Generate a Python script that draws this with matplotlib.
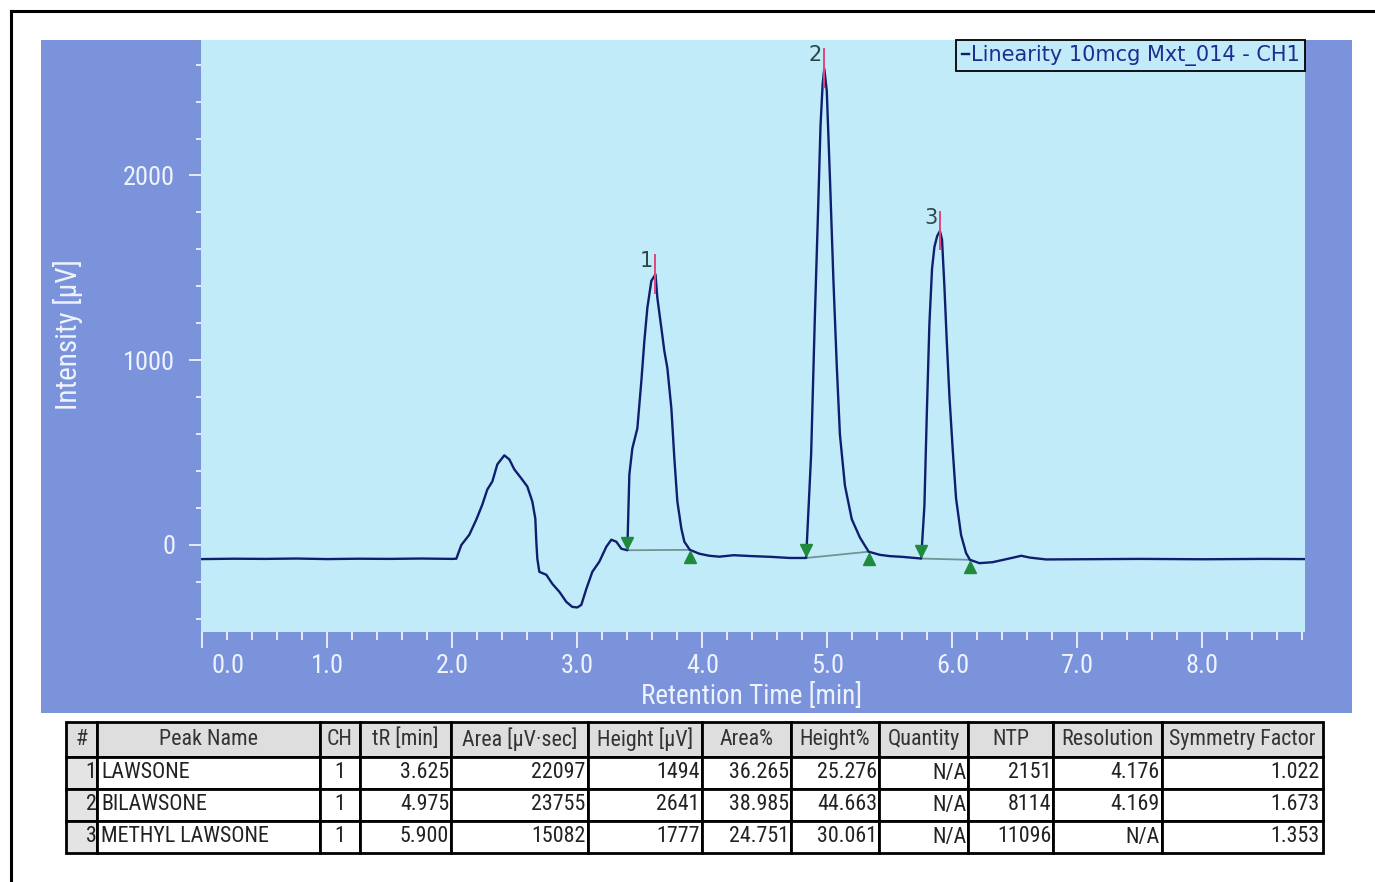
import matplotlib
matplotlib.use("Agg")
import numpy as np
import matplotlib.pyplot as plt
from matplotlib import font_manager
from matplotlib.lines import Line2D
from matplotlib.patches import Rectangle
from matplotlib.ticker import MultipleLocator, FixedLocator, FuncFormatter
from matplotlib.transforms import ScaledTranslation

# detector trace, CH1 (retention time in min, signal in uV)
time_min = [0.00, 0.25, 0.50, 0.75, 1.00, 1.25, 1.50, 1.75, 2.00, 2.032,
            2.072, 2.136, 2.192, 2.240, 2.280, 2.320, 2.360, 2.416, 2.456, 2.496,
            2.552, 2.600, 2.640, 2.664, 2.672, 2.680, 2.696, 2.752, 2.800, 2.856,
            2.912, 2.960, 3.000, 3.032, 3.072, 3.120, 3.176, 3.232, 3.272, 3.312,
            3.352, 3.400, 3.416, 3.440, 3.480, 3.512, 3.536, 3.560, 3.592, 3.640,
            3.672, 3.696, 3.720, 3.752, 3.776, 3.800, 3.832, 3.856, 3.900, 3.976,
            4.056, 4.136, 4.250, 4.400, 4.550, 4.700, 4.830, 4.870, 4.900, 4.925,
            4.945, 4.962, 4.995, 5.020, 5.048, 5.075, 5.100, 5.140, 5.195, 5.260,
            5.330, 5.420, 5.500, 5.600, 5.700, 5.750, 5.776, 5.795, 5.816, 5.837,
            5.856, 5.878, 5.917, 5.936, 5.955, 5.976, 6.003, 6.029, 6.069, 6.109,
            6.140, 6.216, 6.320, 6.420, 6.500, 6.550, 6.620, 6.750, 7.000, 7.500,
            8.000, 8.500, 8.820]
signal_uv = [-78, -76, -77, -75, -78, -76, -77, -75, -77, -76,
             -2, 54, 136, 217, 299, 342, 435, 484, 462, 408,
             359, 315, 234, 141, 16, -76, -147, -163, -212, -255,
             -310, -337, -340, -326, -239, -147, -92, -11, 27, 16,
             -22, -30, 380, 522, 630, 886, 1103, 1283, 1429, 1337,
             1174, 1049, 957, 739, 467, 234, 87, 16, -28, -49,
             -60, -65, -57, -62, -66, -72, -72, 490, 1239, 1801,
             2269, 2494, 2459, 1993, 1435, 969, 598, 321, 138, 39,
             -38, -55, -62, -66, -72, -75, 211, 705, 1199, 1495,
             1613, 1672, 1652, 1397, 1100, 804, 508, 251, 53, -45,
             -82, -100, -95, -80, -68, -60, -70, -80, -79, -77,
             -79, -77, -78]

# peak table
peak_no = [1, 2, 3]
peak_names = ["LAWSONE", "BILAWSONE", "METHYL LAWSONE"]
peak_ch = [1, 1, 1]
peak_tr = [3.625, 4.975, 5.900]
peak_area = [22097, 23755, 15082]
peak_height = [1494, 2641, 1777]
area_pct = [36.265, 38.985, 24.751]
height_pct = [25.276, 44.663, 30.061]
quantity = ["N/A", "N/A", "N/A"]
ntp = [2151, 8114, 11096]
resolution = ["4.176", "4.169", "N/A"]
symmetry = [1.022, 1.673, 1.353]

# integration baselines (start / end of each peak)
base_t0 = [3.40, 4.83, 5.75]
base_v0 = [-30, -72, -75]
base_t1 = [3.90, 5.33, 6.14]
base_v1 = [-28, -38, -82]

col_labels = ["#", "Peak Name", "CH", "tR [min]", "Area [µV·sec]", "Height [µV]",
              "Area%", "Height%", "Quantity", "NTP", "Resolution", "Symmetry Factor"]

FRAME = "#7a93da"
AXBG = "#c2ebfa"
TRACE = "#0f1f6e"
BASE = "#6e9494"
GREEN = "#1f8a3c"
RED = "#e0457b"
LIGHT = "#eef3ff"
NUMC = "#2a4848"
LEGTXT = "#1e2c90"

# pick a narrow sans for the axis and table text
fonts = font_manager.fontManager.ttflist


def has_font(name, stretches=None):
    return any(f.name == name and (stretches is None or f.stretch in stretches) for f in fonts)


COND = ("condensed", "semi-condensed", "extra-condensed")
if has_font("Liberation Sans Narrow"):
    NARROW, STRETCH, NARROW_OK = "Liberation Sans Narrow", "normal", True
elif has_font("Roboto Condensed"):
    NARROW, STRETCH, NARROW_OK = "Roboto Condensed", "normal", True
elif has_font("DejaVu Sans", COND):
    NARROW, STRETCH, NARROW_OK = "DejaVu Sans", "condensed", True
elif has_font("Noto Sans", COND):
    NARROW, STRETCH, NARROW_OK = "Noto Sans", "condensed", True
elif has_font("Open Sans", COND):
    NARROW, STRETCH, NARROW_OK = "Open Sans", "condensed", True
else:
    NARROW, STRETCH, NARROW_OK = "Liberation Sans", "normal", False
plt.rcParams["font.family"] = [NARROW, "DejaVu Sans"]
plt.rcParams["font.stretch"] = STRETCH

AX_FS = 19 if NARROW_OK else 17
LBL_FS = 19.5 if NARROW_OK else 17.5
TB_FS = 15.8 if NARROW_OK else 13.5

W, H = 1375, 882
fig = plt.figure(figsize=(W / 100, H / 100), dpi=100)
fig.patch.set_facecolor("white")

# blue panel behind the plot
fig.add_artist(Rectangle((41 / W, 1 - 713 / H), (1352 - 41) / W, (713 - 40) / H,
                         transform=fig.transFigure, facecolor=FRAME,
                         edgecolor="none", zorder=0))
# window border (top and left)
fig.add_artist(Line2D([11 / W, 11 / W], [0, 1 - 11 / H], transform=fig.transFigure,
                      color="black", lw=2.2))
fig.add_artist(Line2D([11 / W, 1], [1 - 11 / H, 1 - 11 / H], transform=fig.transFigure,
                      color="black", lw=2.2))

ax = fig.add_axes([201 / W, 1 - 632 / H, (1305 - 201) / W, (632 - 40) / H])
ax.set_facecolor(AXBG)
for s in ax.spines.values():
    s.set_visible(False)

# put the apex of each peak at baseline + reported height
t = list(time_min)
v = list(signal_uv)
apex = []
for i in range(len(peak_tr)):
    b = np.interp(peak_tr[i], [base_t0[i], base_t1[i]], [base_v0[i], base_v1[i]])
    apex.append(b + peak_height[i])
    k = int(np.searchsorted(t, peak_tr[i]))
    t.insert(k, peak_tr[i])
    v.insert(k, b + peak_height[i])

ax.plot(t, v, color=TRACE, lw=1.7, zorder=3, label="Linearity 10mcg Mxt_014 - CH1")

up = ax.transData + ScaledTranslation(0, 5.5 / 72, fig.dpi_scale_trans)
down = ax.transData + ScaledTranslation(0, -5.5 / 72, fig.dpi_scale_trans)
for i in range(len(peak_tr)):
    ax.plot([base_t0[i], base_t1[i]], [base_v0[i], base_v1[i]], color=BASE, lw=1.3, zorder=2)
    ax.plot(base_t0[i], base_v0[i], marker="v", ms=9, color=GREEN, transform=up, zorder=4)
    ax.plot(base_t1[i], base_v1[i], marker="^", ms=9, color=GREEN, transform=down, zorder=4)
    ax.plot([peak_tr[i], peak_tr[i]], [apex[i] - 100, apex[i] + 105], color=RED, lw=1.4, zorder=4)
    ax.annotate(str(peak_no[i]), (peak_tr[i], apex[i]), xytext=(-1.5, 9.5),
                textcoords="offset points", ha="right", va="center",
                fontsize=15, color=NUMC, family="DejaVu Sans", zorder=5)

ax.set_xlim(-0.01, 8.82)
ax.set_ylim(-473, 2734)
ax.xaxis.set_major_locator(MultipleLocator(1.0))
ax.xaxis.set_minor_locator(MultipleLocator(0.2))
ax.xaxis.set_major_formatter(FuncFormatter(lambda x, p: "" if abs(x) < 1e-9 else f"{x:.1f}"))
ax.yaxis.set_major_locator(FixedLocator([0, 1000, 2000]))
ax.yaxis.set_minor_locator(MultipleLocator(200))

ax.tick_params(axis="both", which="both", colors=LIGHT, direction="out")
ax.tick_params(axis="x", which="major", length=11.5, width=1.3, pad=4, labelsize=AX_FS)
ax.tick_params(axis="x", which="minor", length=5.8, width=1.3)
ax.tick_params(axis="y", which="major", length=8.6, width=1.3, pad=10, labelsize=AX_FS)
ax.tick_params(axis="y", which="minor", length=3.6, width=1.3)

# first label sits to the right of its tick
ax.annotate("0.0", xy=(0, 0), xycoords=("data", "axes fraction"), xytext=(18.7, -15.5),
            textcoords="offset points", ha="center", va="top", fontsize=AX_FS, color=LIGHT)

fig.text(752 / W, 1 - 696 / H, "Retention Time [min]", ha="center", va="center",
         fontsize=LBL_FS, color=LIGHT)
fig.text(68 / W, 1 - 335 / H, "Intensity [µV]", rotation=90, ha="center", va="center",
         fontsize=LBL_FS + 1.5, color=LIGHT)

leg = ax.legend(loc="upper right", borderaxespad=0, handlelength=0.35, handletextpad=0.1,
                borderpad=0.25, fancybox=False, framealpha=1, edgecolor="black",
                facecolor=AXBG, prop={"family": "DejaVu Sans", "size": 15, "stretch": "normal"})
leg.get_frame().set_linewidth(1.3)
for txt in leg.get_texts():
    txt.set_color(LEGTXT)

# peak table
tax = fig.add_axes([66 / W, 1 - 853 / H, (1323 - 66) / W, (853 - 722) / H])
tax.axis("off")
rows = []
for i in range(len(peak_no)):
    rows.append([str(peak_no[i]), peak_names[i], str(peak_ch[i]), f"{peak_tr[i]:.3f}",
                 str(peak_area[i]), str(peak_height[i]), f"{area_pct[i]:.3f}",
                 f"{height_pct[i]:.3f}", quantity[i], str(ntp[i]), resolution[i],
                 f"{symmetry[i]:.3f}"])
col_px = [31, 223, 40, 91, 137, 114, 89, 88, 89, 85, 109, 161]
tbl = tax.table(cellText=rows, colLabels=col_labels, colWidths=[w / sum(col_px) for w in col_px],
                cellLoc="right", colLoc="center", bbox=[0, 0, 1, 1])
tbl.auto_set_font_size(False)
tbl.set_fontsize(TB_FS)
for (r, c), cell in tbl.get_celld().items():
    cell.set_edgecolor("black")
    cell.set_linewidth(2.0)
    cell.PAD = 0.02
    cell.set_height(35 if r == 0 else 32)
    txt = cell.get_text()
    txt.set_color("#222222")
    if r == 0:
        cell.set_facecolor("#dedede")
        txt.set_color("#333333")
    elif c == 0:
        cell.set_facecolor("#e4e4e4")
    else:
        cell.set_facecolor("white")
        if c == 1:
            txt.set_horizontalalignment("left")
        elif c == 2:
            txt.set_horizontalalignment("center")

fig.savefig("out.png", dpi=100, facecolor=fig.get_facecolor())
